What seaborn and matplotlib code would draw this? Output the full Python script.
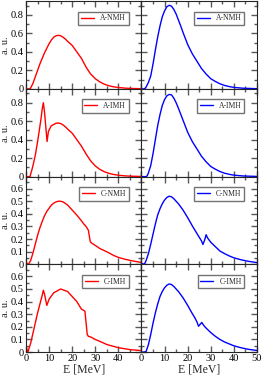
import matplotlib
matplotlib.use("Agg")
import matplotlib.pyplot as plt
import seaborn as sns
from matplotlib.ticker import MultipleLocator, FuncFormatter

# spectra, E in MeV, values in a.u.
e_a_nmh_red = [0, 1, 1.5, 2, 3, 4, 5, 6, 7, 8, 9, 10, 11, 12, 13, 14, 15, 16, 17, 18,
               20, 22, 24, 26, 28, 30, 32, 34, 36, 38, 40, 43, 46, 50]
v_a_nmh_red = [0, 0, 0, 0.01, 0.06, 0.13, 0.2, 0.27, 0.33, 0.39, 0.44, 0.49, 0.53, 0.56, 0.575, 0.58,
               0.575, 0.56, 0.54, 0.515, 0.47, 0.40, 0.33, 0.235, 0.16, 0.11, 0.075, 0.05, 0.033,
               0.022, 0.015, 0.008, 0.004, 0.002]

e_a_imh_red = [0, 1, 1.7, 2.5, 3, 4, 4.4, 5, 5.8, 6.5, 7, 7.5, 8, 8.4, 9.1, 9.7, 10.9, 12, 13,
               14, 15, 16, 17, 18, 20, 22, 24, 26, 28, 30, 32, 34, 36, 38, 40, 43, 46, 50]
v_a_imh_red = [0, 0, 0, 0.07, 0.12, 0.23, 0.29, 0.38, 0.51, 0.63, 0.73, 0.80, 0.70, 0.585, 0.38,
               0.49, 0.55, 0.565, 0.578, 0.58, 0.575, 0.56, 0.54, 0.515, 0.47, 0.40, 0.33, 0.245,
               0.17, 0.115, 0.078, 0.052, 0.035, 0.023, 0.015, 0.008, 0.004, 0.002]

e_c_nmh_red = [0, 0.5, 1, 2, 3, 4, 5, 6, 7, 8, 9, 10, 11, 12, 13, 14, 15, 16, 18, 20, 22, 24,
               25, 26, 27, 27.8, 28.3, 30, 32, 35, 38, 40, 43, 46, 50]
v_c_nmh_red = [0.02, 0.005, 0, 0.03, 0.09, 0.16, 0.23, 0.29, 0.34, 0.385, 0.42, 0.445, 0.47,
               0.485, 0.495, 0.5, 0.5, 0.495, 0.47, 0.43, 0.39, 0.345, 0.32, 0.30, 0.27, 0.18,
               0.17, 0.15, 0.125, 0.10, 0.07, 0.055, 0.04, 0.028, 0.015]

e_c_imh_red = [0, 0.4, 0.8, 2, 3, 4, 5, 6, 7, 7.5, 8, 9, 10, 12, 15, 18, 20, 22, 24, 25, 25.5,
               26.5, 27, 28, 30, 32, 35, 40, 45, 50]
v_c_imh_red = [0.05, 0.02, 0, 0.07, 0.15, 0.23, 0.31, 0.38, 0.45, 0.49, 0.46, 0.37, 0.42, 0.47,
               0.50, 0.48, 0.44, 0.40, 0.34, 0.33, 0.325, 0.14, 0.125, 0.12, 0.10, 0.085, 0.06,
               0.035, 0.02, 0.012]

e_a_nmh_blue = [0, 1, 1.5, 2, 3, 4, 5, 6, 7, 8, 9, 10, 11, 12, 13, 14, 15, 16, 17, 18, 20, 22,
                24, 26, 28, 30, 32, 34, 36, 38, 40, 44, 50]
v_a_nmh_blue = [0, 0, 0.005, 0.02, 0.07, 0.14, 0.27, 0.42, 0.56, 0.68, 0.78, 0.845, 0.89, 0.905,
                0.895, 0.86, 0.81, 0.745, 0.68, 0.61, 0.48, 0.38, 0.30, 0.22, 0.16, 0.11, 0.08,
                0.055, 0.037, 0.025, 0.016, 0.007, 0.002]

e_a_imh_blue = [0, 1, 2, 2.5, 3, 4, 5, 6, 7, 8, 9, 10, 11, 12, 13, 14, 15, 16, 17, 18, 20, 22,
                24, 26, 28, 30, 32, 34, 36, 38, 40, 44, 50]
v_a_imh_blue = [0, 0, 0, 0.01, 0.04, 0.12, 0.25, 0.40, 0.55, 0.67, 0.77, 0.835, 0.875, 0.89,
                0.885, 0.85, 0.80, 0.74, 0.675, 0.61, 0.48, 0.38, 0.30, 0.22, 0.16, 0.11, 0.08,
                0.055, 0.037, 0.025, 0.016, 0.007, 0.002]

e_c_nmh_blue = [0, 0.8, 1.5, 2, 3, 4, 5, 6, 7, 8, 9, 10, 11, 12, 13, 14, 15, 16, 17, 18, 20, 22,
                24, 25, 26, 26.6, 27.3, 28, 28.6, 30, 32, 34, 36, 38, 40, 43, 46, 50]
v_c_nmh_blue = [0.01, 0, 0.01, 0.03, 0.085, 0.16, 0.24, 0.32, 0.39, 0.44, 0.48, 0.51, 0.53, 0.54,
                0.535, 0.52, 0.50, 0.48, 0.455, 0.43, 0.37, 0.305, 0.245, 0.215, 0.185, 0.158,
                0.19, 0.235, 0.21, 0.175, 0.14, 0.105, 0.085, 0.067, 0.052, 0.037, 0.025, 0.014]

e_c_imh_blue = [0, 1, 2, 3, 4, 5, 6, 7, 8, 9, 10, 11, 12, 13, 14, 15, 16, 17, 18, 20, 22, 23,
                24, 24.7, 25.4, 26.1, 27, 28, 30, 32, 34, 36, 38, 40, 43, 46, 50]
v_c_imh_blue = [0, 0, 0.005, 0.06, 0.14, 0.23, 0.31, 0.38, 0.44, 0.48, 0.51, 0.53, 0.54, 0.535,
                0.52, 0.50, 0.48, 0.455, 0.43, 0.37, 0.305, 0.275, 0.24, 0.205, 0.22, 0.235,
                0.21, 0.19, 0.155, 0.125, 0.10, 0.08, 0.065, 0.05, 0.035, 0.023, 0.013]

labels = ["A-NMH", "A-IMH", "C-NMH", "C-IMH"]
red_curves = [(e_a_nmh_red, v_a_nmh_red), (e_a_imh_red, v_a_imh_red),
              (e_c_nmh_red, v_c_nmh_red), (e_c_imh_red, v_c_imh_red)]
blue_curves = [(e_a_nmh_blue, v_a_nmh_blue), (e_a_imh_blue, v_a_imh_blue),
               (e_c_nmh_blue, v_c_nmh_blue), (e_c_imh_blue, v_c_imh_blue)]
row_ylim = [0.95, 0.95, 0.695, 0.695]
row_yticks = [[0, 0.2, 0.4, 0.6, 0.8], [0, 0.2, 0.4, 0.6, 0.8],
              [0, 0.1, 0.2, 0.3, 0.4, 0.5, 0.6], [0, 0.1, 0.2, 0.3, 0.4, 0.5, 0.6]]
row_yminor = [0.1, 0.1, 0.05, 0.05]

sns.set_style("ticks")
plt.rcParams["font.family"] = ["Liberation Serif", "DejaVu Serif"]
plt.rcParams.update({
    "xtick.direction": "in", "ytick.direction": "in",
    "xtick.top": True, "ytick.right": True,
    "xtick.major.size": 4.5, "ytick.major.size": 4.5,
    "xtick.minor.size": 2.5, "ytick.minor.size": 2.5,
    "xtick.major.width": 1.0, "ytick.major.width": 1.0,
    "xtick.minor.width": 1.0, "ytick.minor.width": 1.0,
    "xtick.color": "0.35", "ytick.color": "0.35",
    "xtick.labelcolor": "black", "ytick.labelcolor": "black",
    "xtick.minor.visible": True, "ytick.minor.visible": True,
})

fig, axes = plt.subplots(4, 2, figsize=(2.63, 3.77), dpi=100, sharey="row")
fig.subplots_adjust(left=0.099, right=0.977, top=0.997, bottom=0.066, hspace=0, wspace=0)

fmt = FuncFormatter(lambda v, _: "0" if abs(v) < 1e-9 else f"{v:g}")

for row in range(4):
    for col, (curves, color) in enumerate([(red_curves, "#ff0000"), (blue_curves, "#0000ff")]):
        ax = axes[row, col]
        e, v = curves[row]
        sns.lineplot(x=e, y=v, ax=ax, color=color, linewidth=1.0, label=labels[row])

        ax.set_xlim(0, 50)
        ax.set_ylim(0, row_ylim[row])
        ax.set_xticks([0, 10, 20, 30, 40, 50])
        ax.xaxis.set_minor_locator(MultipleLocator(5))
        ax.set_yticks(row_yticks[row])
        ax.yaxis.set_minor_locator(MultipleLocator(row_yminor[row]))
        ax.yaxis.set_major_formatter(fmt)
        ax.tick_params(axis="both", labelsize=7.5, pad=1.5)
        for sp in ax.spines.values():
            sp.set_linewidth(0.8)
            sp.set_color("0.15")

        if row == 3:
            if col == 0:
                ax.set_xticklabels(["0", "10", "20", "30", "40", ""])
            ax.set_xlabel("E [MeV]", fontsize=8.5, labelpad=0)
        else:
            ax.tick_params(axis="x", labelbottom=False)

        if col == 0:
            ax.set_ylabel("a. u.", fontsize=7.5, labelpad=1)
        else:
            ax.tick_params(axis="y", labelleft=False)
            ax.set_ylabel("")

        ax.legend(loc="upper right", bbox_to_anchor=(0.89, 0.88), fontsize=5.5,
                  frameon=True, fancybox=False, edgecolor="0.45", framealpha=1,
                  handlelength=1.7, handletextpad=0.8, borderpad=0.35,
                  borderaxespad=0)

fig.savefig("out.png", dpi=100)
